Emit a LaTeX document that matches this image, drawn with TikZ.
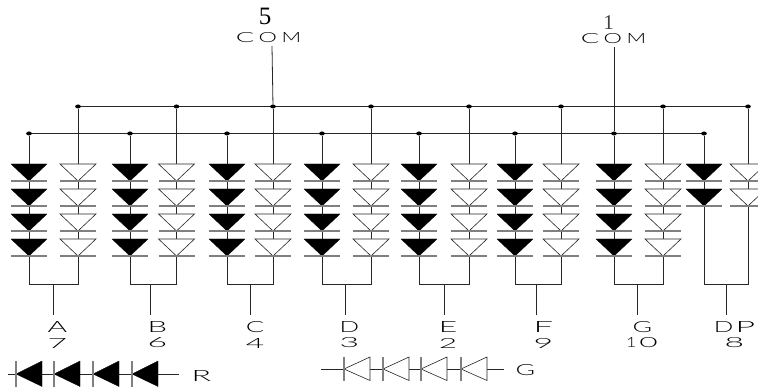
\documentclass[tikz,border=0pt]{standalone}
\usepackage{graphicx}
\usepackage{fontspec}
\setmainfont{Liberation Serif}
\newfontfamily\strokefont[UprightFont=* Light]{Lato}
\newcommand{\stk}[3]{\resizebox{\dimexpr #1pt*115/100\relax}{#2pt}{\strokefont #3}}
\newcommand{\comtxt}{\stk{16}{10}{C}\hspace{4.5pt}\stk{16}{10}{O}\hspace{4.5pt}\stk{17}{10}{M}}
\tikzset{
  wire/.style={line width=0.8pt,black!85},
  barline/.style={line width=1.2pt,black!50},
  ledfilled/.style={fill=black,draw=black,line width=0.3pt},
  ledopen/.style={fill=white,draw=black!85,line width=0.6pt},
  joint/.style={ellipse,fill=black,inner sep=0pt,minimum width=5.6pt,minimum height=4pt},
  lbl/.style={inner sep=0pt,outer sep=0pt,text=black},
  num/.style={inner sep=0pt,outer sep=0pt,font=\fontsize{25}{25}\selectfont}
}
\usetikzlibrary{shapes.geometric}
\begin{document}
\begin{tikzpicture}[x=1pt,y=-1pt]
\useasboundingbox (0,0) rectangle (758,390);
\begin{scope}
\clip (0,0) rectangle (758,390);
% buses
\coordinate (busA) at (78,106.5);
\coordinate (busAend) at (750,106.5);
\coordinate (busB) at (29,133.5);
\draw[wire] (busA) -- (busAend);
\draw[wire] (busB) -- (704,133.5);
% columns: filled x / open x / stem x / name
\foreach \fx/\ox/\sx/\n/\cnt in {29/78/53.5/a/4,130/176.5/150.5/b/4,227/273/250/c/4,322/371/345/d/4,419/469/444.5/e/4,515/561/536/f/4,614/663/637/g/4,704/748/726/p/2}{
  \node[joint] (top\n) at (\ox,106.5) {};
  \node[joint] (sec\n) at (\fx,133.5) {};
  \coordinate (botf\n) at (\fx,284);
  \coordinate (boto\n) at (\ox,284);
  \coordinate (stem\n) at (\sx,284);
  \coordinate (stemend\n) at (\sx,315);
  \draw[wire] (sec\n) -- (botf\n) -- (boto\n) -- (top\n);
  \draw[wire] (stem\n) -- (stemend\n);
  \foreach \k in {1,...,\cnt}{
    \pgfmathsetmacro{\yt}{164+25*(\k-1)}
    \pgfmathsetmacro{\ya}{\yt+17}
    \fill[ledfilled] (\fx-18,\yt) -- (\fx+18,\yt) -- (\fx,\ya) -- cycle;
    \draw[barline] (\fx-18,\ya) -- (\fx+18,\ya);
    \draw[ledopen] (\ox-18,\yt) -- (\ox+18,\yt) -- (\ox,\ya) -- cycle;
    \draw[barline] (\ox-18,\ya) -- (\ox+18,\ya);
  }
}
\end{scope}
% common pins
\node[lbl] (com5) at (268.5,37.5) {\comtxt};
\node[lbl] (com1) at (613.5,39) {\comtxt};
\node[num] (pin5) at (265,16) {5};
\node[num,font=\fontsize{21}{21}\selectfont,text=black!75] (pin1) at (608.7,23) {1};
\coordinate (com5s) at (272,46);
\coordinate (com1s) at (614,47);
\draw[wire] (com5s) -- (topc);
\draw[wire] (com1s) -- (secg);
% labels
\foreach \t/\d/\x/\w/\n in {A/7/57.5/17/a,B/6/157.5/17/b,C/4/255/16/c,D/3/349.5/17/d,E/2/448/16/e,F/9/543.5/17/f}{
  \node[lbl] (seg\n) at (\x,327) {\stk{\w}{11}{\t}};
  \node[lbl] (pin\n) at (\x,343) {\stk{\w}{10}{\d}};
}
\node[lbl] (segg) at (642.5,327) {\stk{17}{11}{G}};
\node[lbl] (ping) at (642,343) {\stk{9}{10}{1}\hspace{3pt}\stk{16}{10}{0}};
\node[lbl] (segp) at (734.5,327) {\stk{17}{11}{D}\hspace{2pt}\stk{17}{11}{P}};
\node[lbl] (pinp) at (734.5,343) {\stk{17}{10}{8}};
% legend R
\node[lbl] (legR) at (201.5,375.5) {\stk{17}{11}{R}};
\coordinate (rs) at (8,374);
\coordinate (re) at (179,374);
\draw[wire] (rs) -- (re);
\foreach \a in {16,54,93,132}{
  \fill[ledfilled] (\a,374) -- (\a+26,361) -- (\a+26,386.5) -- cycle;
  \draw[barline] (\a,361) -- (\a,386.5);
}
% legend G
\node[lbl] (legG) at (525.5,370.5) {\stk{17}{11}{G}};
\coordinate (gs) at (321,369);
\coordinate (ge) at (504,369);
\draw[wire] (gs) -- (ge);
\foreach \a in {344,383,421,461}{
  \draw[ledopen] (\a,369) -- (\a+26,357) -- (\a+26,380.5) -- cycle;
  \draw[barline] (\a,357) -- (\a,380.5);
}
\end{tikzpicture}
\end{document}
